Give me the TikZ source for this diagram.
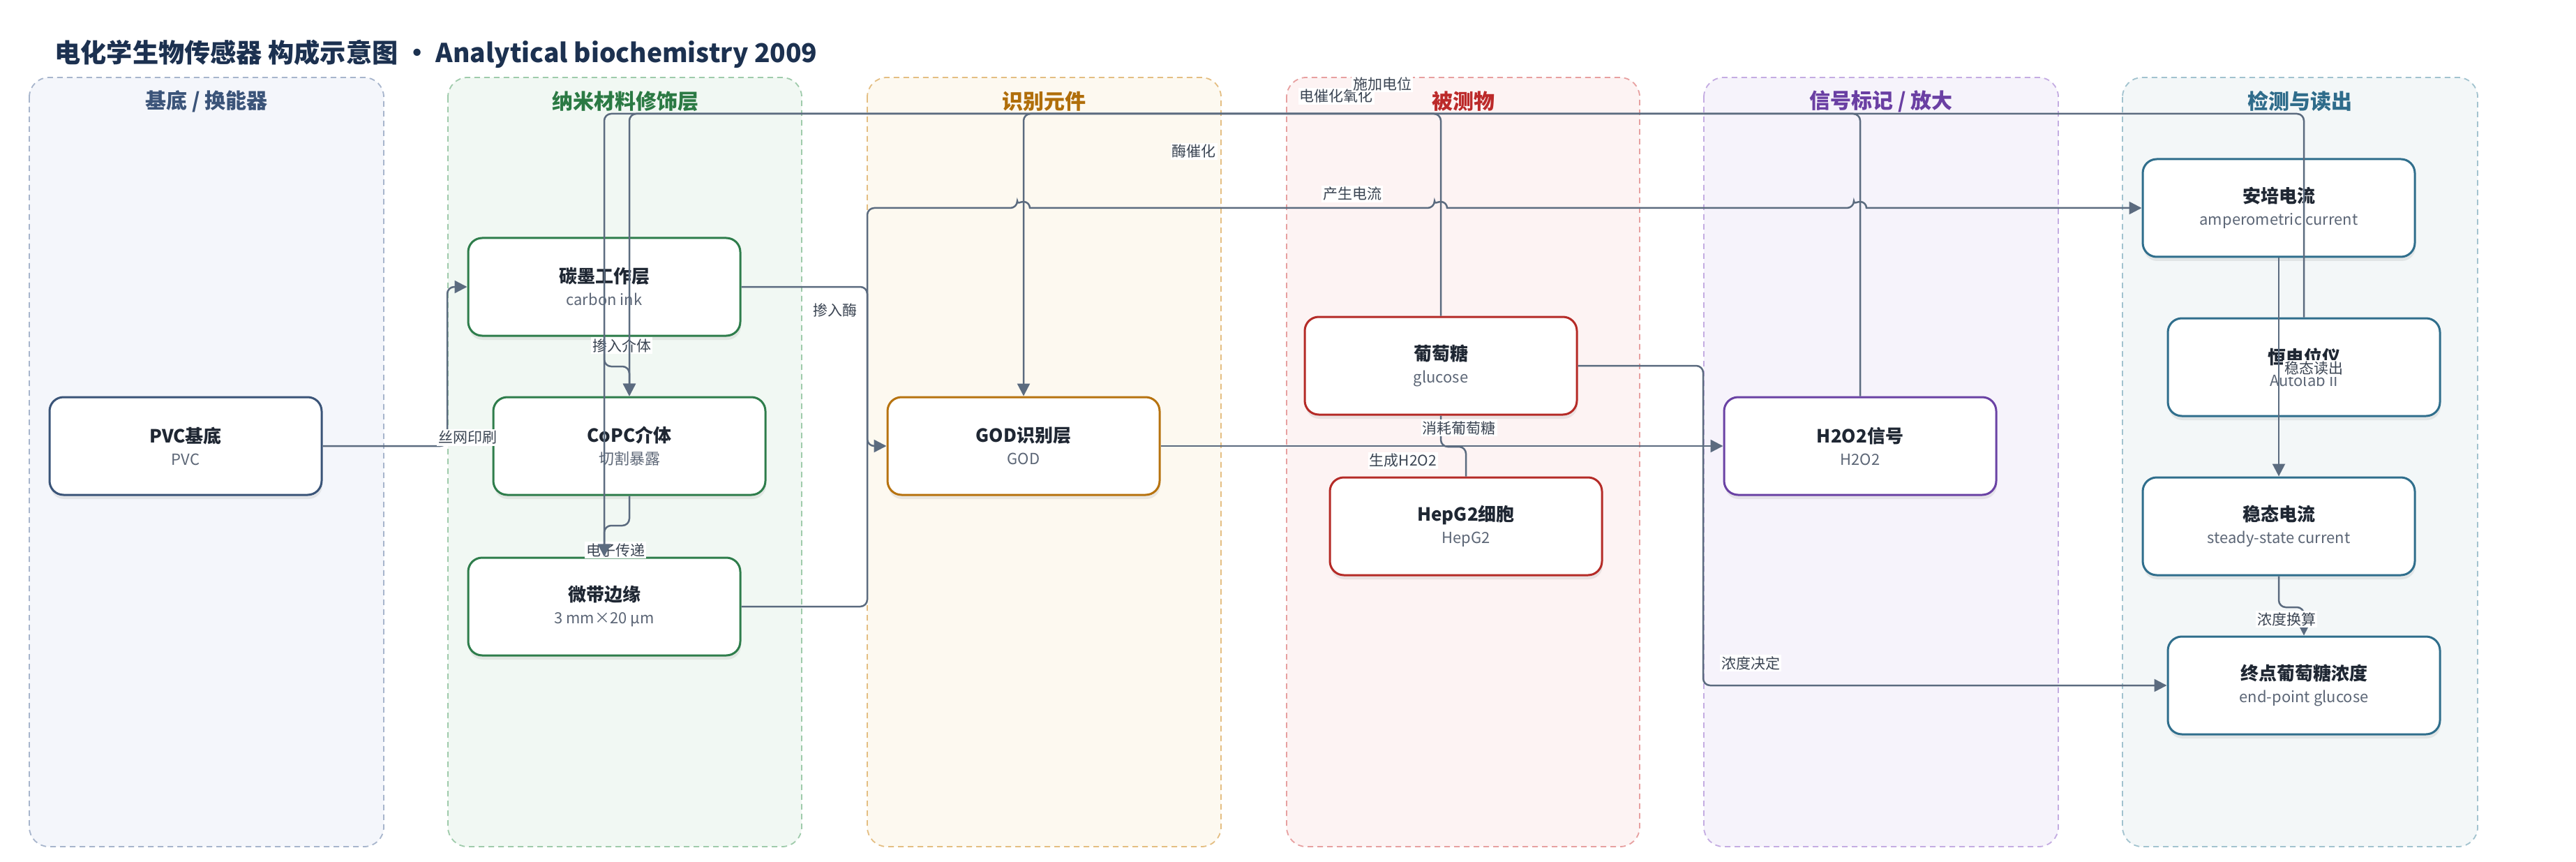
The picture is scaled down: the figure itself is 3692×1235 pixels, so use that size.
\documentclass[tikz,border=0pt]{standalone}
\usepackage{fontspec}
\setmainfont{Noto Sans CJK SC}
\usetikzlibrary{arrows.meta,shadows}

\definecolor{edgec}{HTML}{5B6B7F}
\definecolor{titlec}{HTML}{1C3150}
\definecolor{txtc}{HTML}{1F2733}
\definecolor{subc}{HTML}{5C6676}
\definecolor{labc}{HTML}{3A4452}
\definecolor{laneAf}{HTML}{F4F6FB}\definecolor{laneAb}{HTML}{A7B5CC}\definecolor{laneAt}{HTML}{3B5479}
\definecolor{laneBf}{HTML}{F1F8F3}\definecolor{laneBb}{HTML}{9FCBAB}\definecolor{laneBt}{HTML}{2B7A44}
\definecolor{laneCf}{HTML}{FDF9F0}\definecolor{laneCb}{HTML}{E4BE82}\definecolor{laneCt}{HTML}{B06E0A}
\definecolor{laneDf}{HTML}{FDF3F3}\definecolor{laneDb}{HTML}{E7A0A0}\definecolor{laneDt}{HTML}{BC2A2A}
\definecolor{laneEf}{HTML}{F6F3FB}\definecolor{laneEb}{HTML}{C4ACE2}\definecolor{laneEt}{HTML}{6A3FA3}
\definecolor{laneFf}{HTML}{F3F7F8}\definecolor{laneFb}{HTML}{A2C3CF}\definecolor{laneFt}{HTML}{2F6C8B}
\definecolor{nbA}{HTML}{3A5478}
\definecolor{nbB}{HTML}{2E7D4B}
\definecolor{nbC}{HTML}{B7730F}
\definecolor{nbD}{HTML}{B52B27}
\definecolor{nbE}{HTML}{6A42A4}
\definecolor{nbF}{HTML}{2F6E8C}

\tikzset{
  lane/.style={draw=#1, rounded corners=14pt, line width=0.9pt, dash pattern=on 4pt off 3pt},
  lanetitle/.style={font=\bfseries\fontsize{15}{18}\selectfont, text=#1},
  box/.style={draw=#1, fill=white, rounded corners=10pt, line width=1.5pt,
    minimum width=195pt, minimum height=70pt, align=center, text=txtc,
    drop shadow={shadow xshift=0.5pt, shadow yshift=-3pt, opacity=0.15}},
  lbl/.style={fill=white, inner sep=1pt, text=labc, font=\fontsize{10.5}{12}\selectfont},
  edge/.style={draw=edgec, line width=1.25pt, rounded corners=5pt},
  arr/.style={-{Triangle[length=9pt,width=9pt]}},
}
\newcommand\boxtext[2]{{\bfseries\fontsize{13}{15}\selectfont #1}\\[4pt]{\fontsize{11}{13}\selectfont\color{subc}#2}}

\begin{document}
\begin{tikzpicture}[x=0.5pt,y=-0.5pt]
\useasboundingbox[fill=white] (0,0) rectangle (3692,1235);

\draw[lane=laneAb, fill=laneAf] (42,111) rectangle (550,1213);
\draw[lane=laneBb, fill=laneBf] (642,111) rectangle (1149,1213);
\draw[lane=laneCb, fill=laneCf] (1243,111) rectangle (1750,1213);
\draw[lane=laneDb, fill=laneDf] (1844,111) rectangle (2350,1213);
\draw[lane=laneEb, fill=laneEf] (2442,111) rectangle (2950,1213);
\draw[lane=laneFb, fill=laneFf] (3042,111) rectangle (3551,1213);

\node[anchor=west, inner sep=0pt, font=\bfseries\fontsize{18.6}{22}\selectfont, text=titlec] (title) at (78,77)
  {电化学生物传感器 构成示意图 · Analytical biochemistry 2009};

\node[lanetitle=laneAt] (tA) at (296,145) {基底 / 换能器};
\node[lanetitle=laneBt] (tB) at (896,145) {纳米材料修饰层};
\node[lanetitle=laneCt] (tC) at (1496,145) {识别元件};
\node[lanetitle=laneDt] (tD) at (2097,145) {被测物};
\node[lanetitle=laneEt] (tE) at (2696,145) {信号标记 / 放大};
\node[lanetitle=laneFt] (tF) at (3296,145) {检测与读出};

\node[box=nbA] (pvc) at (266,639) {\boxtext{PVC基底}{PVC}};
\node[box=nbB] (ink) at (866,411) {\boxtext{碳墨工作层}{carbon ink}};
\node[box=nbB] (copc) at (902,639) {\boxtext{CoPC介体}{切割暴露}};
\node[box=nbB] (mic) at (866,869) {\boxtext{微带边缘}{3 mm×20 μm}};
\node[box=nbC] (god) at (1467,639) {\boxtext{GOD识别层}{GOD}};
\node[box=nbD] (glu) at (2065,524) {\boxtext{葡萄糖}{glucose}};
\node[box=nbD] (hep) at (2101,754) {\boxtext{HepG2细胞}{HepG2}};
\node[box=nbE] (hoo) at (2666,639) {\boxtext{H2O2信号}{H2O2}};
\node[box=nbF] (amp) at (3266,298) {\boxtext{安培电流}{amperometric current}};
\node[box=nbF] (pot) at (3302,526) {\boxtext{恒电位仪}{Autolab II}};
\node[box=nbF] (ss) at (3266,754) {\boxtext{稳态电流}{steady-state current}};
\node[box=nbF] (endp) at (3302,982) {\boxtext{终点葡萄糖浓度}{end-point glucose}};

\node[lbl] (lmed) at (891,495) {掺入介体};
\node[lbl] (lele) at (882,788) {电子传递};

\draw[edge,arr] (pvc.east) -- (641,639) |- (ink.west);
\draw[edge,arr] (ink.south) -- (866,525) -| (copc.north);
\draw[edge,arr] (ink.east) -| (1243,525) |- (god.west);
\draw[edge,arr] (copc.south) -- (902,753) -| (mic.north);
\draw[edge,arr] (glu.north) -- (2065,163) -| (god.north);
\draw[edge,arr] (god.east) -- (hoo.west);
\draw[edge] (glu.south) -- (2065,640) -| (hep.north);
\draw[edge,arr] (hoo.north) -- (2666,163) -| (copc.north);
\draw[edge,arr] (pot.north) -- (3302,163) -| (mic.north);
\draw[edge,arr] (mic.east) -| (1243,600) |- (1458,298)
  [sharp corners] arc[start angle=180,end angle=0,radius=4.5pt]
  [rounded corners=5pt] -- (2056,298)
  [sharp corners] arc[start angle=180,end angle=0,radius=4.5pt]
  [rounded corners=5pt] -- (2657,298)
  [sharp corners] arc[start angle=180,end angle=0,radius=4.5pt]
  -- (amp.west);
\draw[edge,arr] (amp.south) -- (ss.north);
\draw[edge,arr] (ss.south) -- (3266,870) -| (endp.north);
\draw[edge,arr] (glu.east) -| (2441,800) |- (endp.west);

\node[lbl] (lscr) at (670,627) {丝网印刷};
\node[lbl] (lenz) at (1197,444) {掺入酶};
\node[lbl] (lcat) at (1711,217) {酶催化};
\node[lbl] (lgen) at (2011,660) {生成H2O2};
\node[lbl] (lcon) at (2091,613) {消耗葡萄糖};
\node[lbl] (lox) at (1915,138) {电催化氧化};
\node[lbl] (lpot) at (1981,120) {施加电位};
\node[lbl] (lcur) at (1938,278) {产生电流};
\node[lbl] (lrd) at (3316,528) {稳态读出};
\node[lbl] (lcalc) at (3277,887) {浓度换算};
\node[lbl] (ldet) at (2509,950) {浓度决定};
\end{tikzpicture}
\end{document}
